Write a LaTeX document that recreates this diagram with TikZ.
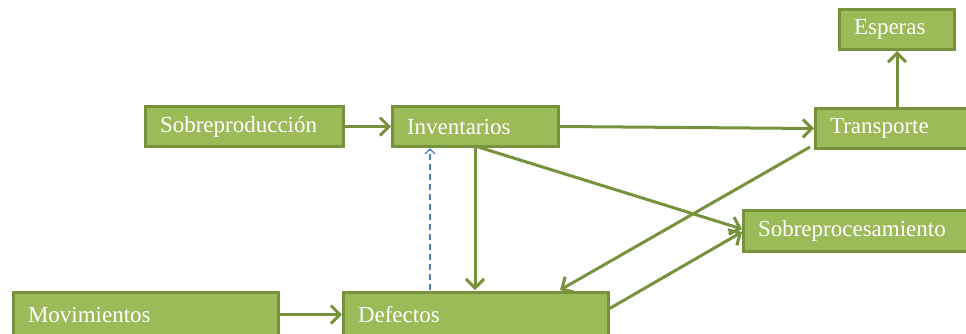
\documentclass[tikz,border=0pt]{standalone}
\usepackage{fontspec}
\setmainfont{Liberation Serif}
\usetikzlibrary{arrows.meta}
\definecolor{boxfill}{HTML}{9BBB59}
\definecolor{boxline}{HTML}{76923C}
\definecolor{dashblue}{HTML}{4F81BD}
\tikzset{
  wbox/.style={draw=boxline, fill=boxfill, line width=3pt, anchor=north west,
    inner xsep=13pt, inner ysep=0pt, text=white, font=\fontsize{23}{25}\selectfont,
    align=left},
  conn/.style={draw=boxline, line width=3pt, -{Straight Barb[length=9pt,width=18pt,line width=3pt]}},
  dconn/.style={draw=dashblue, line width=1.4pt, dash pattern=on 6pt off 4pt,
    -{Straight Barb[length=5pt,width=10pt,line width=1.4pt]}}
}
\newcommand{\wb}[6]{\node[wbox, minimum width=#4pt, minimum height=#5pt, text width=#4pt-26pt-3pt] (#1) at (#2,#3) {#6};}
\begin{document}
\begin{tikzpicture}[x=1pt,y=-1pt]
\useasboundingbox (0,0) rectangle (966,333);
\wb{esp}{838}{8}{115}{40}{Esperas}
\wb{tra}{814}{107}{165}{40}{Transporte}
\wb{sob}{144}{105}{198}{40}{Sobreproducción}
\wb{inv}{391}{105}{166}{40}{Inventarios}
\wb{spr}{742}{209}{235}{41}{Sobreprocesamiento}
\wb{mov}{12}{291}{265}{44}{Movimientos}
\wb{def}{342}{291}{265}{44}{Defectos}
\coordinate (invb) at (475,146);
\coordinate (definv) at (475,290);
\draw[conn] (sob.east) -- (inv.west);
\draw[conn] (inv.east) -- (tra.west);
\draw[conn] (tra.north -| esp) -- (esp.south);
\draw[conn] (invb) -- (742,229);
\draw[conn] (invb) -- (definv);
\draw[conn] (810,147) -- (560,290);
\draw[conn] (607,310) -- (742,232);
\draw[conn] (mov.east) -- (def.west);
\draw[dconn] (430,290) -- (430,148);
\end{tikzpicture}
\end{document}
